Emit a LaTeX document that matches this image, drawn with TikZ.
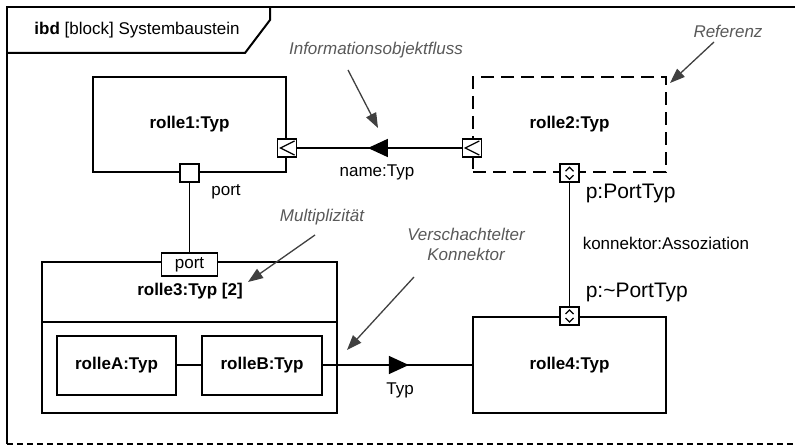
\documentclass[tikz,border=0pt]{standalone}
\usepackage{fontspec}
\setmainfont{Liberation Sans}
\usetikzlibrary{arrows.meta,decorations.markings}

\begin{document}
\begin{tikzpicture}[x=1pt, y=-1pt, line width=1.5pt, font=\fontsize{17}{20}\selectfont,
    main/.style = {draw, line width=2pt, minimum width=193pt, minimum height=95pt, inner sep=0pt, font=\fontsize{17}{20}\selectfont\bfseries},
    part/.style = {draw, line width=2pt, minimum width=119pt, minimum height=59pt, inner sep=0pt, font=\fontsize{17}{20}\selectfont\bfseries},
    port/.style = {draw, fill=white, line width=1.5pt, minimum width=19pt, minimum height=18pt, inner sep=0pt},
    flow/.style = {port, path picture={\draw[line width=1.2pt] ([shift={(-2pt,-2pt)}]path picture bounding box.north east) -- ([xshift=3pt]path picture bounding box.west) -- ([shift={(-2pt,2pt)}]path picture bounding box.south east);}},
    both/.style = {port, path picture={\draw[line width=1.2pt] ([shift={(-4pt,2pt)}]path picture bounding box.center) -- ([yshift=6pt]path picture bounding box.center) -- ([shift={(4pt,2pt)}]path picture bounding box.center) ([shift={(-4pt,-2pt)}]path picture bounding box.center) -- ([yshift=-6pt]path picture bounding box.center) -- ([shift={(4pt,-2pt)}]path picture bounding box.center);}},
    note/.style = {text=black!65, font=\fontsize{17}{20}\selectfont\itshape},
    hint/.style = {draw=black!75, line width=1.3pt, -{Triangle[length=15pt,width=11pt]}},
    flowmark/.style = {postaction={decorate}, decoration={markings, mark=at position #1 with {\arrow{Triangle[length=20pt,width=18pt]}}}}]
        \useasboundingbox (0,0) rectangle (795,446);

        % frame
        \draw[line width=2pt] (7,444) -- (7,7) -- (795,7);
        \draw[line width=2pt] (7,53) -- (245,53) -- (270,20) -- (270,7);
        \draw[line width=2pt, dash pattern=on 6pt off 4pt] (7,444) -- (795,444);
        \node (t) at (137,30) {\textbf{ibd} [block] Systembaustein};

        % parts
        \node[main] (1) at (189.5,124.5) {rolle1:Typ};
        \node[main, line width=2.5pt, dash pattern=on 13pt off 7pt] (2) at (569.5,124.5) {rolle2:Typ};
        \node[draw, line width=2pt, minimum width=295pt, minimum height=151pt] (3) at (189.5,337.5) {};
        \draw[line width=2pt] ([yshift=-61pt]3.north west) -- ([yshift=-61pt]3.north east);
        \node[font=\fontsize{17}{20}\selectfont\bfseries] (3t) at (190,291) {rolle3:Typ [2]};
        \node[main, minimum height=96pt] (4) at (569.5,365) {rolle4:Typ};
        \node[part] (A) at (116.5,365) {rolleA:Typ};
        \node[part, minimum width=120pt] (B) at (262,365) {rolleB:Typ};

        % ports
        \node[port] (1p) at (1.south) {};
        \node[flow] (1f) at ([yshift=-23.5pt]1.east) {};
        \node[flow] (2f) at ([yshift=-23.5pt]2.west) {};
        \node[both] (2p) at (2.south) {};
        \node[both] (4p) at (4.north) {};
        \node[port, minimum width=56pt, minimum height=23pt] (3p) at ([yshift=-3.5pt]3.north) {port};

        % connectors
        \draw (1p) -- (3p);
        \draw (2p) -- (4p);
        \draw (A) -- (B);
        \draw[flowmark=0.57] (2f) -- (1f);
        \draw[flowmark=0.576] (B) -- (4);

        % labels
        \node (l1) at (226,192) {port};
        \node (l2) at (377,172) {name:Typ};
        \node[anchor=west, inner sep=0pt, font=\fontsize{21}{24}\selectfont] (l3) at (585,193) {p:PortTyp};
        \node[anchor=west, inner sep=0pt] (l4) at (582,243) {konnektor:Assoziation};
        \node[anchor=west, inner sep=0pt, font=\fontsize{21}{24}\selectfont] (l5) at (585,292) {p:\textasciitilde PortTyp};
        \node (l6) at (400,390) {Typ};

        % notes
        \node[note] (n1) at (376,50) {Informationsobjektfluss};
        \node[note] (n2) at (728,31) {Referenz};
        \node[note] (n3) at (322,217) {Multiplizität};
        \node[note, align=center] (n4) at (466,244) {Verschachtelter\\Konnektor};
        \coordinate (n1a) at (348,70);  \coordinate (n1b) at (378,128);
        \coordinate (n2a) at (714,42);  \coordinate (n2b) at (670,83);
        \coordinate (n3a) at (315,235); \coordinate (n3b) at (248,282);
        \coordinate (n4a) at (414,277); \coordinate (n4b) at (347,350);
        \draw[hint] (n1a) -- (n1b);
        \draw[hint] (n2a) -- (n2b);
        \draw[hint] (n3a) -- (n3b);
        \draw[hint] (n4a) -- (n4b);
\end{tikzpicture}
\end{document}
